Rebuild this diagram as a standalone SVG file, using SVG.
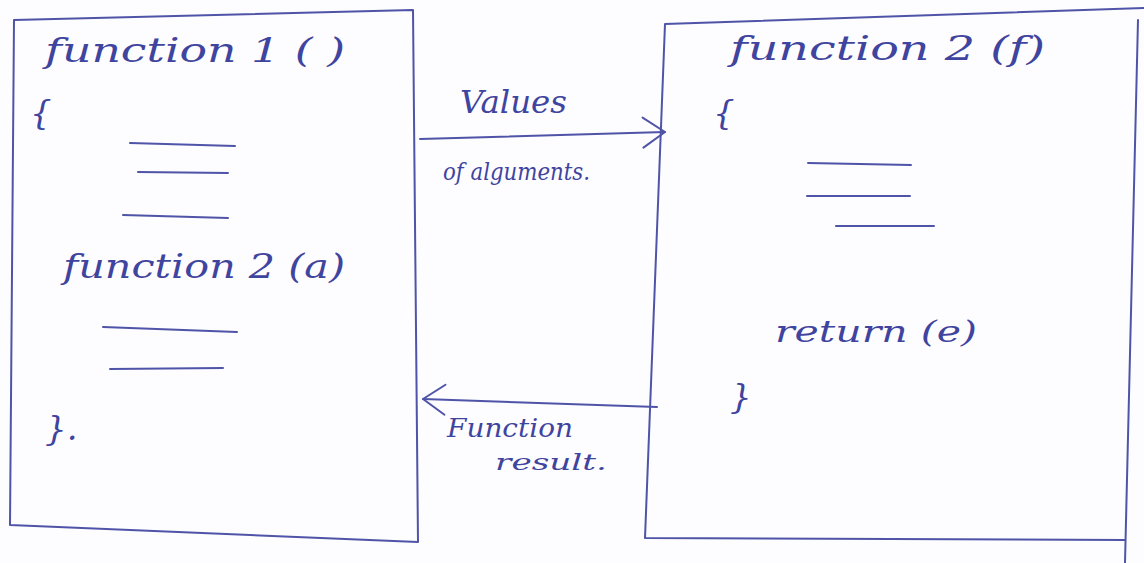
<svg xmlns="http://www.w3.org/2000/svg" width="1144" height="563" viewBox="0 0 1144 563">
<style>
.ink{fill:none;stroke:#4f54a8;stroke-width:2;stroke-linecap:round;stroke-linejoin:round}
.hw{font-family:"DejaVu Serif","Liberation Serif",serif;font-style:italic;fill:#3f449f}
.big{font-size:34px}
.mid{font-size:30px}
</style>
<defs>
<marker id="arr" viewBox="-2 -20 28 40" markerWidth="28" markerHeight="40" refX="22" refY="0" orient="auto" markerUnits="userSpaceOnUse">
<path d="M0,-15 L22,0 L0,15" fill="none" stroke="#4f54a8" stroke-width="2" stroke-linecap="round" stroke-linejoin="round"/>
</marker>
</defs>
<rect x="0" y="0" width="1144" height="563" fill="#fdfcfe"/>
<g id="function1">
<path class="ink" d="M14,20 L413,10 L418,542 L10,525 Z"/>
<text class="hw big" x="45" y="62" textLength="300" lengthAdjust="spacingAndGlyphs">function 1 ( )</text>
<text class="hw big" x="30" y="124">{</text>
<path class="ink" d="M130,143 L235,146 M138,172 L228,173 M123,215 L228,218"/>
<text class="hw big" x="63" y="278" textLength="282" lengthAdjust="spacingAndGlyphs">function 2 (a)</text>
<path class="ink" d="M103,327 L237,332 M110,369 L223,368"/>
<text class="hw big" x="45" y="440">}.</text>
</g>
<g id="function2">
<path class="ink" d="M665,24 L1144,8 M1138,20 L1125,563 M645,538 L1125,540 M665,24 L645,538"/>
<text class="hw big" x="730" y="60" textLength="315" lengthAdjust="spacingAndGlyphs">function 2 (f)</text>
<text class="hw big" x="713" y="124">{</text>
<path class="ink" d="M808,163 L911,165 M807,196 L910,196 M836,226 L934,226"/>
<text class="hw mid" x="775" y="342" textLength="202" lengthAdjust="spacingAndGlyphs">return (e)</text>
<text class="hw big" x="730" y="408">}</text>
</g>
<g id="connectors">
<path class="ink" d="M420,139 L665,132" marker-end="url(#arr)"/>
<text class="hw" font-size="31" x="460" y="113" textLength="107" lengthAdjust="spacingAndGlyphs">Values</text>
<text class="hw" font-size="25" x="443" y="180" textLength="147" lengthAdjust="spacingAndGlyphs">of alguments.</text>
<path class="ink" d="M657,407 L423,399" marker-end="url(#arr)"/>
<text class="hw" font-size="26" x="447" y="437" textLength="126" lengthAdjust="spacingAndGlyphs">Function</text>
<text class="hw" font-size="22" x="495" y="470" textLength="112" lengthAdjust="spacingAndGlyphs">result.</text>
</g>
</svg>
